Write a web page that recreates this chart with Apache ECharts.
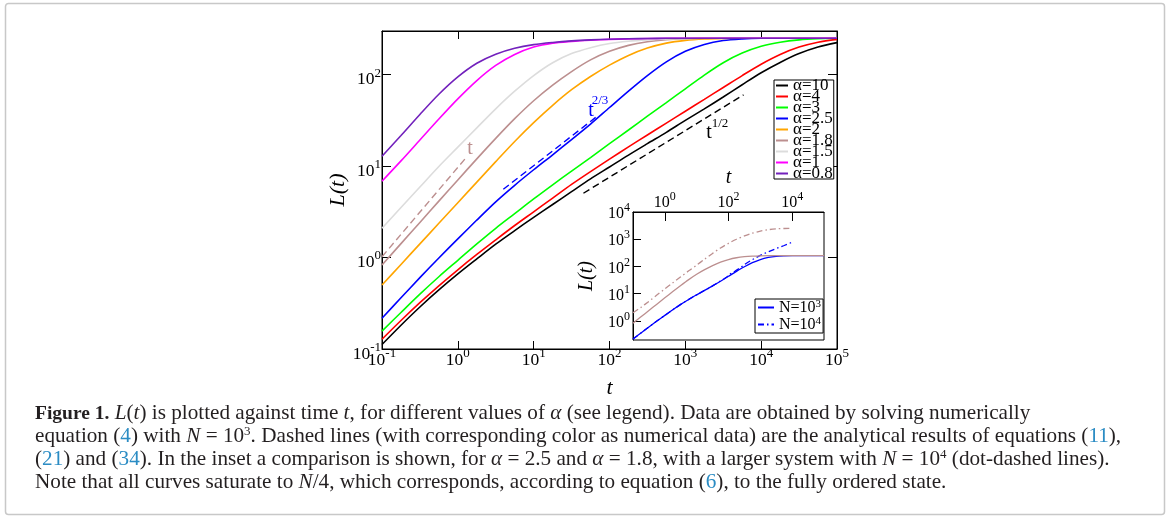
<!DOCTYPE html>
<html>
<head>
<meta charset="utf-8">
<title>L(t) vs t</title>
<script src="https://cdn.jsdelivr.net/npm/echarts@6/dist/echarts.min.js"></script>
<style>
html, body { margin: 0; padding: 0; background: #fff; }
#chart { width: 1170px; height: 530px; }
</style>
</head>
<body>
<div id="chart"></div>
<script>
// shared time grid (quarter decades, 1e-1 .. 1e5)
var tGrid = [0.1, 0.178, 0.316, 0.562, 1, 1.78, 3.16, 5.62, 10, 17.8, 31.6, 56.2, 100, 178, 316, 562, 1000, 1780, 3160, 5620, 1e4, 1.78e4, 3.16e4, 5.62e4, 1e5];

// L(t) for every alpha, N = 10^3
var L_a10  = [0.112, 0.182, 0.288, 0.442, 0.661, 0.966, 1.40, 1.97, 2.75, 3.80, 5.25, 7.24, 9.77, 13.2, 17.6, 23.4, 31.6, 42.2, 56.9, 77.6, 105, 136, 170, 200, 224];
var L_a4   = [0.128, 0.205, 0.321, 0.491, 0.735, 1.08, 1.56, 2.24, 3.16, 4.47, 6.31, 8.71, 11.9, 16.2, 21.9, 29.5, 39.8, 53.7, 72.4, 97.7, 130, 166, 200, 226, 243];
var L_a3   = [0.157, 0.251, 0.398, 0.617, 0.933, 1.41, 2.09, 3.02, 4.37, 6.24, 8.81, 12.4, 17.6, 24.8, 35.1, 49.5, 70.0, 98.9, 135, 172, 204, 226, 240, 247, 250];
var L_a25  = [0.217, 0.363, 0.603, 0.989, 1.60, 2.57, 4.07, 6.17, 9.12, 13.3, 19.5, 28.8, 43.7, 66.1, 97.7, 138, 180, 214, 236, 245.5, 249.5, 250, 250, 250, 250];
var L_a2   = [0.50, 0.841, 1.41, 2.37, 3.98, 6.68, 11.2, 18.6, 29.9, 46.2, 68.4, 95.5, 127, 162, 195, 221, 237, 245.5, 249, 250, 250, 250, 250, 250, 250];
var L_a18  = [0.83, 1.42, 2.42, 4.14, 7.06, 12.0, 20.1, 33.0, 51.8, 76.7, 108, 145, 180, 209, 229, 241, 247, 249.5, 250, 250, 250, 250, 250, 250, 250];
var L_a15  = [2.09, 3.52, 5.9, 9.9, 16.1, 26.2, 42.3, 65.9, 97.7, 135, 170, 197, 219, 232, 240, 245, 248, 249.5, 250, 250, 250, 250, 250, 250, 250];
var L_a1   = [6.84, 11.4, 19.3, 32.7, 54.3, 86.1, 126, 166, 200, 221, 231, 238, 243, 246, 248, 249.5, 250, 250, 250, 250, 250, 250, 250, 250, 250];
var L_a08  = [12.8, 21.6, 36.7, 61.0, 94.4, 133, 167, 194, 213, 225, 234, 240, 244, 246.5, 248.5, 249.5, 250, 250, 250, 250, 250, 250, 250, 250, 250];

var alphaNames  = ['α=10', 'α=4', 'α=3', 'α=2.5', 'α=2', 'α=1.8', 'α=1.5', 'α=1', 'α=0.8'];
var alphaColors = ['#000000', '#ff0000', '#00ff00', '#0000ff', '#ffa500', '#bc8f8f', '#dcdcdc', '#ff00ff', '#7221bc'];
var alphaData   = [L_a10, L_a4, L_a3, L_a25, L_a2, L_a18, L_a15, L_a1, L_a08];

// analytical power laws (dashed)
var dashT1T   = [0.1, 1.3];     var dashT1L   = [1.02, 12.5];   // ~ t
var dashT23T  = [3.98, 67.9];   var dashT23L  = [5.58, 34.8];   // ~ t^(2/3)
var dashT12T  = [45.3, 5850];   var dashT12L  = [5.05, 60.1];   // ~ t^(1/2)

// inset: N = 10^4 runs (dot-dashed)
var inBlue4T = [0.1, 0.178, 0.316, 0.562, 1, 1.78, 3.16, 5.62, 10, 17.8, 20.0, 22.4, 25.1, 28.2, 31.6, 35.5, 39.8, 44.7, 50.1, 56.2, 63.1, 70.8, 79.4, 89.1, 100, 112, 126, 141, 158, 178, 200, 224, 251, 282, 316, 398, 562, 1000, 1780, 3160, 5620, 10000, 11000];
var inBlue4L = [0.217, 0.363, 0.603, 0.989, 1.60, 2.57, 4.07, 6.17, 9.12, 13.4, 14.8, 15.2, 17.2, 17.8, 20.7, 21.0, 24.2, 24.8, 28.7, 29.7, 34.2, 34.7, 40.2, 41.2, 49.0, 50.0, 57.0, 58.5, 67.0, 70.0, 80.0, 84.0, 95.0, 100, 118, 140, 178, 257, 347, 457, 589, 776, 813];
var inBrown4L = [2.0, 3.16, 5.25, 8.91, 15.1, 25.1, 41.7, 69.2, 112, 186, 302, 479, 708, 1000, 1318, 1660, 1995, 2239, 2399, 2483, 2500];

var mainXTicks = [0.1, 1, 10, 100, 1000, 1e4, 1e5];
var mainYTicks = [0.1, 1, 10, 100];
var inXTicks = [1, 100, 1e4];
var inYTicks = [1, 10, 100, 1000, 1e4];

var serif = '"Liberation Serif", "DejaVu Serif", serif';

function zip(ts, ls) {
	var out = [];
	for (var i = 0; i < ls.length; i++) out.push([ts[i], ls[i]]);
	return out;
}
function powLabel(v) {
	var e = Math.round(Math.log10(v));
	return '{b|10}{s|' + e + '}';
}

var mainRich = {
	b: { fontFamily: serif, fontSize: 17.5, lineHeight: 22, verticalAlign: 'bottom', color: '#000' },
	s: { fontFamily: serif, fontSize: 13, lineHeight: 12, verticalAlign: 'top', color: '#000' }
};
var inRich = {
	b: { fontFamily: serif, fontSize: 16, lineHeight: 20, verticalAlign: 'bottom', color: '#000' },
	s: { fontFamily: serif, fontSize: 12, lineHeight: 11, verticalAlign: 'top', color: '#000' }
};
var blackLine = { show: true, lineStyle: { color: '#000', width: 1 } };

var series = [];
for (var k = 0; k < alphaNames.length; k++) {
	series.push({
		name: alphaNames[k], type: 'line', xAxisIndex: 0, yAxisIndex: 0,
		data: zip(tGrid, alphaData[k]), symbol: 'none', smooth: 0.3,
		lineStyle: { color: alphaColors[k], width: 1.6 }, itemStyle: { color: alphaColors[k] }
	});
}
// dashed analytical lines
series.push({ name: 'fit t', type: 'line', xAxisIndex: 0, yAxisIndex: 0, data: zip(dashT1T, dashT1L), symbol: 'none',
	lineStyle: { color: '#bc8f8f', width: 1.4, type: [7, 4] } });
series.push({ name: 'fit t23', type: 'line', xAxisIndex: 0, yAxisIndex: 0, data: zip(dashT23T, dashT23L), symbol: 'none',
	lineStyle: { color: '#0000ff', width: 1.4, type: [7, 4] } });
series.push({ name: 'fit t12', type: 'line', xAxisIndex: 0, yAxisIndex: 0, data: zip(dashT12T, dashT12L), symbol: 'none',
	lineStyle: { color: '#000', width: 1.4, type: [7, 4] } });

// inset series
series.push({ name: 'N=10^3', type: 'line', xAxisIndex: 2, yAxisIndex: 2, data: zip(tGrid, L_a25), symbol: 'none', smooth: 0.3,
	lineStyle: { color: '#0000ff', width: 1.3 }, itemStyle: { color: '#0000ff' } });
series.push({ name: 'N=10^4', type: 'line', xAxisIndex: 2, yAxisIndex: 2, data: zip(inBlue4T, inBlue4L), symbol: 'none',
	lineStyle: { color: '#0000ff', width: 1.3, type: [6, 3, 1.5, 3] }, itemStyle: { color: '#0000ff' } });
series.push({ name: 'inset α=1.8 N=10^3', type: 'line', xAxisIndex: 2, yAxisIndex: 2, data: zip(tGrid, L_a18), symbol: 'none', smooth: 0.3,
	lineStyle: { color: '#bc8f8f', width: 1.3 } });
series.push({ name: 'inset α=1.8 N=10^4', type: 'line', xAxisIndex: 2, yAxisIndex: 2, data: zip(tGrid, inBrown4L), symbol: 'none', smooth: 0.3,
	lineStyle: { color: '#bc8f8f', width: 1.3, type: [6, 3, 1.5, 3] } });

var caption = [
	'{b|Figure 1.} {i|L}({i|t}) is plotted against time {i|t}, for different values of {i|α} (see legend). Data are obtained by solving numerically',
	'equation ({a|4}) with {i|N} = 10{s|3}. Dashed lines (with corresponding color as numerical data) are the analytical results of equations ({a|11}),',
	'({a|21}) and ({a|34}). In the inset a comparison is shown, for {i|α} = 2.5 and {i|α} = 1.8, with a larger system with {i|N} = 10{s|4} (dot-dashed lines).',
	'Note that all curves saturate to {i|N}/4, which corresponds, according to equation ({a|6}), to the fully ordered state.'
].join('\n');

var capSize = 21.2;
var myChart = echarts.init(document.getElementById('chart'), null, { renderer: 'canvas' });
var option = {
	animation: false,
	backgroundColor: '#fff',
	title: {
		left: 35, top: 402, text: caption, padding: 0,
		textStyle: {
			fontFamily: serif, fontSize: capSize, fontWeight: 'normal', color: '#231f20', lineHeight: 23,
			rich: {
				b: { fontFamily: serif, fontSize: 19.5, fontWeight: 'bold', color: '#231f20', lineHeight: 23 },
				i: { fontFamily: serif, fontSize: capSize, fontStyle: 'italic', color: '#231f20', lineHeight: 23 },
				a: { fontFamily: serif, fontSize: capSize, color: '#2b8cc4', lineHeight: 23 },
				s: { fontFamily: serif, fontSize: 13, color: '#231f20', verticalAlign: 'top', lineHeight: 17 }
			}
		}
	},
	grid: [
		{ left: 382, top: 31, width: 455, height: 318, show: true, borderColor: '#000', borderWidth: 1, containLabel: false, outerBoundsMode: 'none' },
		{ left: 633, top: 212, width: 191, height: 128, show: true, borderColor: '#000', borderWidth: 1, backgroundColor: '#fff', containLabel: false, outerBoundsMode: 'none' }
	],
	legend: [
		{
			data: alphaNames, orient: 'vertical', left: 774, top: 80,
			itemGap: -6, itemWidth: 12, itemHeight: 10, padding: [-3, 1, -3, 1],
			borderColor: '#000', borderWidth: 1, backgroundColor: '#fff',
			itemStyle: { opacity: 0, borderWidth: 0 },
			textStyle: { fontFamily: serif, fontSize: 17, color: '#000' },
			selectedMode: false
		},
		{
			data: ['N=10^3', 'N=10^4'], orient: 'vertical', left: 755, top: 299,
			itemGap: 0, itemWidth: 16, itemHeight: 10, padding: [0, 2, 0, 2],
			borderColor: '#000', borderWidth: 1, backgroundColor: '#fff',
			itemStyle: { opacity: 0, borderWidth: 0 },
			formatter: function(name) { return '{b|N=10}{s|' + name.slice(-1) + '}'; },
			textStyle: { fontFamily: serif, fontSize: 16, color: '#000', rich: {
				b: { fontFamily: serif, fontSize: 16, lineHeight: 17, verticalAlign: 'bottom', color: '#000' },
				s: { fontFamily: serif, fontSize: 11, lineHeight: 10, verticalAlign: 'top', color: '#000' }
			} },
			selectedMode: false
		}
	],
	xAxis: [
		{
			gridIndex: 0, type: 'log', logBase: 10, min: 0.1, max: 1e5, position: 'bottom',
			axisLine: blackLine, splitLine: { show: false }, minorTick: { show: false },
			axisTick: { inside: true, length: 8, lineStyle: { color: '#000' }, customValues: mainXTicks },
			axisLabel: { customValues: mainXTicks, formatter: powLabel, rich: mainRich, margin: -2 },
			name: 't', nameLocation: 'middle', nameGap: 28,
			nameTextStyle: { fontFamily: serif, fontStyle: 'italic', fontSize: 22, color: '#000' }
		},
		{
			gridIndex: 0, type: 'log', logBase: 10, min: 0.1, max: 1e5, position: 'top',
			axisLine: blackLine, splitLine: { show: false },
			axisTick: { inside: true, length: 8, lineStyle: { color: '#000' }, customValues: mainXTicks },
			axisLabel: { show: false }
		},
		{
			gridIndex: 1, type: 'log', logBase: 10, min: 0.1, max: 1e5, position: 'top',
			axisLine: blackLine, splitLine: { show: false },
			axisTick: { inside: true, length: 9, lineStyle: { color: '#000' }, customValues: inXTicks },
			axisLabel: { customValues: inXTicks, formatter: powLabel, rich: inRich, margin: 1 },
			name: 't', nameLocation: 'middle', nameGap: 24,
			nameTextStyle: { fontFamily: serif, fontStyle: 'italic', fontSize: 20, color: '#000' }
		}
	],
	yAxis: [
		{
			gridIndex: 0, type: 'log', logBase: 10, min: 0.1, max: 300, position: 'left',
			axisLine: blackLine, splitLine: { show: false }, minorTick: { show: false },
			axisTick: { inside: true, length: 9, lineStyle: { color: '#000' }, customValues: mainYTicks },
			axisLabel: { customValues: mainYTicks, formatter: powLabel, rich: mainRich, margin: 1, padding: [6, 0, 0, 0] },
			name: 'L(t)', nameLocation: 'middle', nameRotate: 90, nameGap: 33,
			nameTextStyle: { fontFamily: serif, fontStyle: 'italic', fontSize: 22, color: '#000' }
		},
		{
			gridIndex: 0, type: 'log', logBase: 10, min: 0.1, max: 300, position: 'right',
			axisLine: blackLine, splitLine: { show: false },
			axisTick: { inside: true, length: 9, lineStyle: { color: '#000' }, customValues: mainYTicks },
			axisLabel: { show: false }
		},
		{
			gridIndex: 1, type: 'log', logBase: 10, min: 0.2, max: 1e4, position: 'left',
			axisLine: blackLine, splitLine: { show: false },
			axisTick: { inside: true, length: 8, lineStyle: { color: '#000' }, customValues: inYTicks },
			axisLabel: { customValues: inYTicks, formatter: powLabel, rich: inRich, margin: 3 },
			name: 'L(t)', nameLocation: 'middle', nameRotate: 90, nameGap: 36,
			nameTextStyle: { fontFamily: serif, fontStyle: 'italic', fontSize: 20, color: '#000' }
		}
	],
	graphic: [
		{ type: 'rect', shape: { x: 5.5, y: 3.5, width: 1159, height: 511, r: 3 }, style: { fill: 'none', stroke: '#c8c8c8', lineWidth: 1.5 }, silent: true },
		{ type: 'text', x: 470, y: 149, style: { text: 't', fill: '#bc8f8f', font: '20px ' + serif, align: 'center', verticalAlign: 'middle' } },
		{ type: 'text', x: 591, y: 111, style: { text: 't', fill: '#0000ff', font: '20px ' + serif, align: 'center', verticalAlign: 'middle' } },
		{ type: 'text', x: 600, y: 101, style: { text: '2/3', fill: '#0000ff', font: '13px ' + serif, align: 'center', verticalAlign: 'middle' } },
		{ type: 'text', x: 709, y: 133, style: { text: 't', fill: '#000', font: '20px ' + serif, align: 'center', verticalAlign: 'middle' } },
		{ type: 'text', x: 720, y: 124, style: { text: '1/2', fill: '#000', font: '13px ' + serif, align: 'center', verticalAlign: 'middle' } }
	],
	series: series
};
myChart.setOption(option);
</script>
</body>
</html>
